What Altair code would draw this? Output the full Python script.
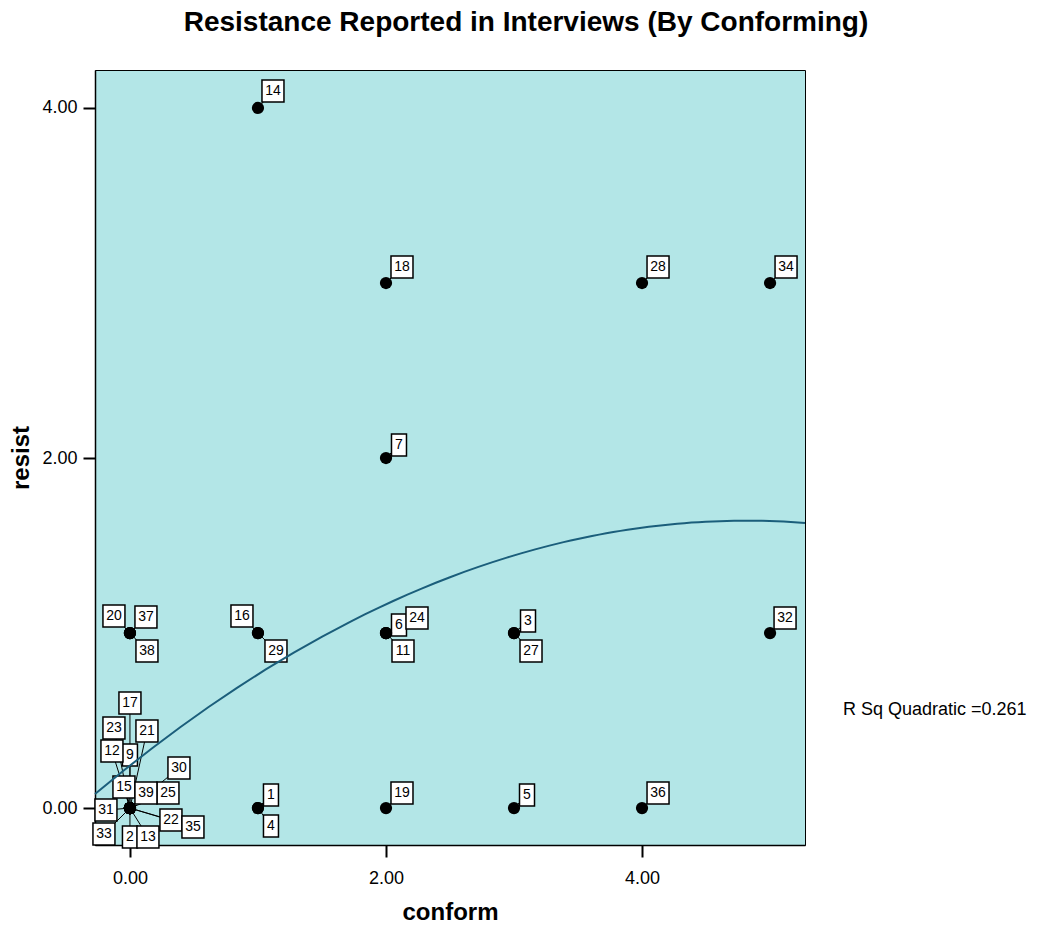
import altair as alt
import pandas as pd

# ---- data ----
case_id = [1, 2, 3, 4, 5, 6, 7, 9, 11, 12, 13, 14, 15, 16, 17, 18, 19, 20,
           21, 22, 23, 24, 25, 27, 28, 29, 30, 31, 32, 33, 34, 35, 36, 37, 38, 39]
conform = [1, 0, 3, 1, 3, 2, 2, 0, 2, 0, 0, 1, 0, 1, 0, 2, 2, 0,
           0, 0, 0, 2, 0, 3, 4, 1, 0, 0, 5, 0, 5, 0, 4, 0, 0, 0]
resist = [0, 0, 1, 0, 0, 1, 2, 0, 1, 0, 0, 4, 0, 1, 0, 3, 0, 1,
          0, 0, 0, 1, 0, 1, 3, 1, 0, 0, 1, 0, 3, 0, 0, 1, 1, 0]
# label-box offsets from each point (pixels, right / down)
label_dx = [13, 0, 14, 13, 13, 13, 13, 0, 17, -18, 18, 15, -6, -16, 0, 16, 16, -16,
            17, 41, -16, 31, 38, 17, 16, 18, 49, -24, 15, -26, 16, 63, 16, 16, 17, 16]
label_dy = [-13, 29, -12, 18, -13, -8, -13, -53, 18, -57, 29, -17, -21, -17, -105, -16, -15, -17,
            -77, 12, -80, -15, -15, 18, -16, 18, -40, 2, -15, 26, -16, 19, -15, -16, 18, -15]

title_text = "Resistance Reported in Interviews (By Conforming)"
x_title = "conform"
y_title = "resist"
tick_values = [0, 2, 4]
rsq_text = "R Sq Quadratic =0.261"

# ---- layout ----
W, H = 710, 775
XMIN, XMAX = -0.273, 5.273
YMIN, YMAX = -0.211, 4.217
PXX = W / (XMAX - XMIN)
PXY = H / (YMAX - YMIN)
BOX_H = 22
FONT = "Liberation Sans"

df = pd.DataFrame({
    "case": [str(c) for c in case_id],
    "conform": conform,
    "resist": resist,
    "dx": label_dx,
    "dy": label_dy,
})
df["bw"] = df["case"].str.len().map({1: 15, 2: 22})
df["lx"] = df["conform"] + df["dx"] / PXX
df["ly"] = df["resist"] - df["dy"] / PXY
df["bx0"] = df["lx"] - df["bw"] / 2 / PXX
df["bx1"] = df["lx"] + df["bw"] / 2 / PXX
df["by0"] = df["ly"] - BOX_H / 2 / PXY
df["by1"] = df["ly"] + BOX_H / 2 / PXY

xscale = alt.Scale(domain=[XMIN, XMAX], nice=False, zero=False)
yscale = alt.Scale(domain=[YMIN, YMAX], nice=False, zero=False)
xaxis = alt.Axis(values=tick_values, format=".2f", title=x_title)
yaxis = alt.Axis(values=tick_values, format=".2f", title=y_title)


def X(f):
    return alt.X(f"{f}:Q", scale=xscale, axis=xaxis)


def Y(f):
    return alt.Y(f"{f}:Q", scale=yscale, axis=yaxis)


base = alt.Chart(df)

leaders = base.mark_rule(color="black", strokeWidth=1).encode(
    x=X("conform"), x2="lx:Q", y=Y("resist"), y2="ly:Q")

boxes = base.mark_rect(fill="white", stroke="black", strokeWidth=1.5).encode(
    x=X("bx0"), x2="bx1:Q", y=Y("by0"), y2="by1:Q")

labels = base.mark_text(fontSize=14, font=FONT, color="black",
                        align="center", baseline="middle").encode(
    x=X("lx"), y=Y("ly"), text="case:N")

fit = base.transform_regression(
    "conform", "resist", method="poly", order=2, extent=[XMIN, XMAX]
).mark_line(color="#1b5e7b", strokeWidth=2).encode(x=X("conform"), y=Y("resist"))

points = base.mark_circle(size=150, color="black", opacity=1).encode(
    x=X("conform"), y=Y("resist"))

rsq = alt.Chart(pd.DataFrame({"t": [rsq_text]})).mark_text(
    align="left", baseline="middle", fontSize=18, font=FONT, color="black"
).encode(x=alt.value(748), y=alt.value(640), text="t:N")

chart = alt.layer(leaders, boxes, labels, fit, points, rsq).properties(
    width=W, height=H,
    autosize=alt.AutoSizeParams(type="none"),
    padding={"left": 87, "top": 62, "right": 225, "bottom": 76},
    title=alt.TitleParams(title_text, fontSize=28, fontWeight="bold", font=FONT,
                          color="black", anchor="middle", baseline="alphabetic",
                          offset=11, dx=76),
).configure_view(
    fill="#b3e6e7", stroke="black", strokeWidth=1
).configure_axis(
    grid=False, domainColor="black", domainWidth=1.5, tickColor="black",
    tickSize=12, tickWidth=2, labelFontSize=18, labelFont=FONT, labelColor="black",
    titleFontSize=24, titleFont=FONT, titleFontWeight="bold",
    titleColor="black"
).configure_axisX(
    labelPadding=12, titlePadding=13
).configure_axisY(
    labelPadding=6, titlePadding=8
)

chart.save("out.html", embed_options={"renderer": "svg", "actions": False})
